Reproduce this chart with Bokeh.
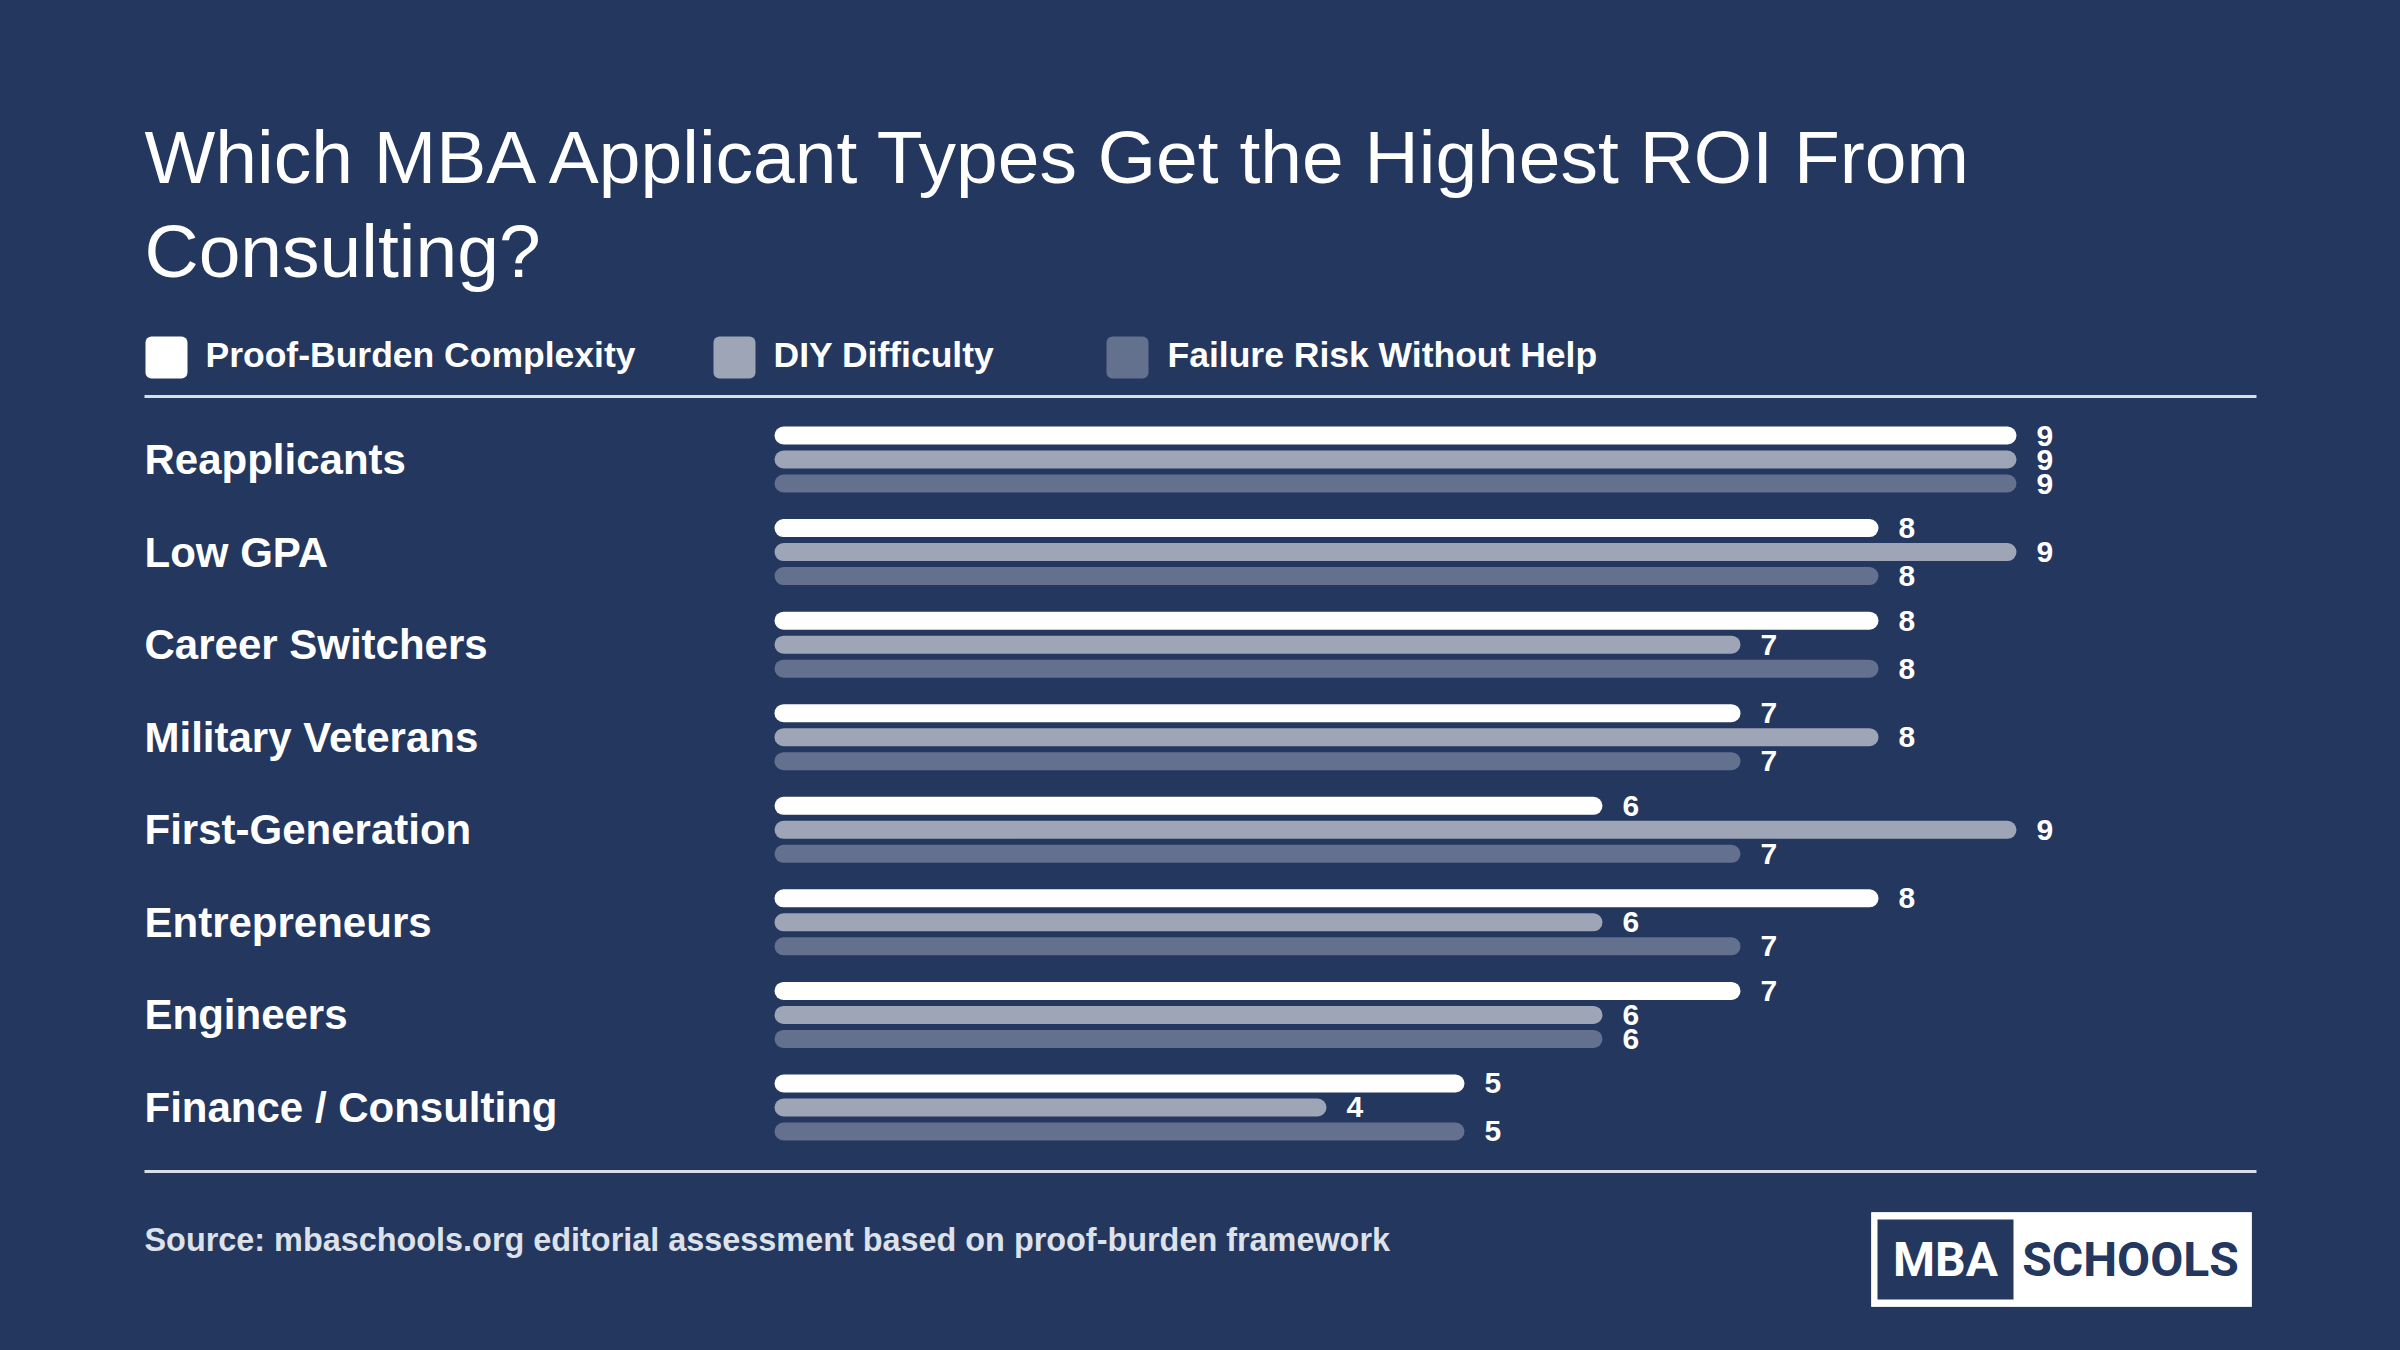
from bokeh.plotting import figure
from bokeh.models import Range1d
from bokeh.embed import file_html
from bokeh.resources import INLINE
from bokeh.core.properties import value

# ---- data -------------------------------------------------------------
categories = [
    "Reapplicants",
    "Low GPA",
    "Career Switchers",
    "Military Veterans",
    "First-Generation",
    "Entrepreneurs",
    "Engineers",
    "Finance / Consulting",
]
proof_burden = [9, 8, 8, 7, 6, 8, 7, 5]
diy_difficulty = [9, 9, 7, 8, 9, 6, 6, 4]
failure_risk = [9, 8, 8, 7, 7, 7, 6, 5]

series_names = ["Proof-Burden Complexity", "DIY Difficulty", "Failure Risk Without Help"]
series_values = [proof_burden, diy_difficulty, failure_risk]

title_lines = ["Which MBA Applicant Types Get the Highest ROI From", "Consulting?"]
source_note = "Source: mbaschools.org editorial assessment based on proof-burden framework"

# ---- style / layout ---------------------------------------------------
W, H = 2400, 1350
BG = "#24375f"
RULE = "#d8deea"
SERIES_COLORS = ["#ffffff", "#9da5b7", "#63718f"]
FONT = value("Liberation Sans")
LOGO_FONT = value("Roboto")

LEFT = 144            # left margin of the text column
RIGHT = 2256          # right end of the rules
ZERO_PX = 774         # where a score of 0 sits
UNIT_PX = 138         # pixels per score point
FIRST_ROW_PX = 459    # centre of the first category group
ROW_STEP_PX = 92.57   # distance between category groups
BAR_STEP_PX = 24      # distance between bars inside a group
BAR_H_PX = 18

p = figure(
    width=W, height=H,
    x_range=Range1d(0, W), y_range=Range1d(H, 0),
    output_backend="svg", toolbar_location=None,
    x_axis_location=None, y_axis_location=None,
    min_border=0, background_fill_color=BG, border_fill_color=BG,
    outline_line_color=None,
)
for g in p.grid:
    g.visible = False

# scales for the scores (x) and the category rows (y)
p.extra_x_ranges = {"score": Range1d(-ZERO_PX / UNIT_PX, (W - ZERO_PX) / UNIT_PX)}
p.extra_y_ranges = {"row": Range1d((H - FIRST_ROW_PX) / ROW_STEP_PX, -FIRST_ROW_PX / ROW_STEP_PX)}

rows = list(range(len(categories)))

# ---- title --------------------------------------------------------------
p.text(x=[LEFT, LEFT], y=[156, 250], text=title_lines,
       text_font=FONT, text_font_size="75px", text_color="#ffffff",
       text_baseline="middle", text_align="left")

# ---- legend -------------------------------------------------------------
legend_sq_left = [145, 713, 1106]
legend_txt_x = [205, 773, 1167]
p.quad(left=legend_sq_left, right=[x + 42 for x in legend_sq_left],
       top=[336] * 3, bottom=[378] * 3,
       fill_color=SERIES_COLORS, line_color=None, border_radius=6)
p.text(x=legend_txt_x, y=[354] * 3, text=series_names,
       text_font=FONT, text_font_style="bold", text_font_size="35.5px",
       text_color="#ffffff", text_baseline="middle")

# ---- rules ----------------------------------------------------------------
p.segment(x0=[LEFT, LEFT], x1=[RIGHT, RIGHT], y0=[396, 1171], y1=[396, 1171],
          line_color=RULE, line_width=3)

# ---- bars -------------------------------------------------------------------
for k, (vals, color) in enumerate(zip(series_values, SERIES_COLORS)):
    offset = (k - 1) * BAR_STEP_PX / ROW_STEP_PX
    ys = [r + offset for r in rows]
    p.hbar(y=ys, left=0, right=vals, height=BAR_H_PX / ROW_STEP_PX,
           fill_color=color, line_color=None, border_radius=9,
           x_range_name="score", y_range_name="row")
    p.text(x=vals, y=ys, text=[str(v) for v in vals], x_offset=20,
           text_font=FONT, text_font_style="bold", text_font_size="30px",
           text_color="#ffffff", text_baseline="middle",
           x_range_name="score", y_range_name="row")

# category names
p.text(x=[LEFT] * len(categories), y=rows, text=categories,
       text_font=FONT, text_font_style="bold", text_font_size="42px",
       text_color="#ffffff", text_baseline="middle",
       y_range_name="row")

# ---- footer ---------------------------------------------------------------
p.text(x=[LEFT], y=[1239], text=[source_note],
       text_font=FONT, text_font_style="bold", text_font_size="32.4px",
       text_color="#dde1ea", text_baseline="middle")

# logo
p.quad(left=[1871], right=[2251], top=[1212], bottom=[1306],
       fill_color="#ffffff", line_color="#e6e9f0", line_width=1)
p.quad(left=[1877], right=[2013], top=[1219], bottom=[1299],
       fill_color=BG, line_color=None)
p.text(x=[1945], y=[1259], text=["MBA"], text_align="center",
       text_font=LOGO_FONT, text_font_style="bold", text_font_size="48px",
       text_color="#ffffff", text_baseline="middle")
p.text(x=[2130], y=[1259], text=["SCHOOLS"], text_align="center",
       text_font=LOGO_FONT, text_font_style="bold", text_font_size="48px",
       text_color=BG, text_baseline="middle")

html = file_html(p, INLINE)
page_style = "<style>html,body{margin:0;padding:0;background:#24375f;}</style>"
html = html.replace("</head>", page_style + "</head>", 1)
open("out.html", "w").write(html)
